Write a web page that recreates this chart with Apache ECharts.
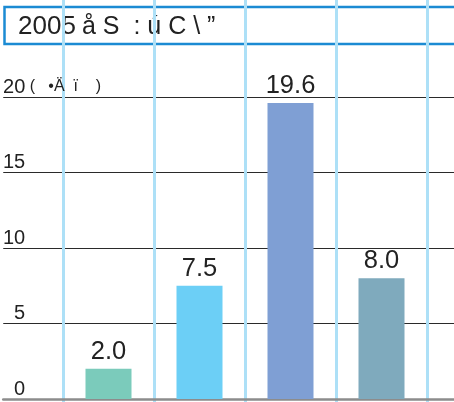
<!DOCTYPE html>
<html>
<head>
<meta charset="utf-8">
<script src="https://cdn.jsdelivr.net/npm/echarts@6/dist/echarts.min.js"></script>
<style>
  html, body { margin: 0; padding: 0; background: #fff; }
  #chart { width: 454px; height: 402px; }
</style>
</head>
<body>
<div id="chart"></div>
<script>
// Chart data
const categories = ['1', '2', '3', '4'];
const values = [2.0, 7.5, 19.6, 8.0];
const barColors = ['#7bcbbb', '#6ccff6', '#7f9fd4', '#7faabd'];
const yTicks = [0, 5, 10, 15, 20];
const titleYear = '2005';
const titleRest = 'å S  : ú C \\ ”';
const unitText = ' (   •Ä  ï    )';

const FONT = 'Liberation Sans, Arial, sans-serif';
const chart = echarts.init(document.getElementById('chart'), null, { renderer: 'canvas' });

const yMin = yTicks[0];
const yMax = yTicks[yTicks.length - 1];
const yStep = yTicks[1] - yTicks[0];

chart.setOption({
  animation: false,
  backgroundColor: '#fff',
  grid: [
    // bars
    { left: 63, width: 364, top: 97, bottom: 3 },
    // horizontal rules across the page
    { left: 3, right: 0, top: 97, bottom: 3 },
    // full-height vertical rules
    { left: 63, width: 364, top: 0, bottom: 0 }
  ],
  xAxis: [
    {
      gridIndex: 0, type: 'category', data: categories,
      axisLine: { show: false }, axisTick: { show: false },
      axisLabel: { show: false }, splitLine: { show: false }
    },
    {
      gridIndex: 1, type: 'value', min: 0, max: 1,
      axisLine: { show: true, lineStyle: { color: '#8c8c8c', width: 2.5 } },
      axisTick: { show: false }, axisLabel: { show: false }, splitLine: { show: false }
    },
    {
      gridIndex: 2, type: 'category', data: categories,
      axisLine: { show: false }, axisTick: { show: false }, axisLabel: { show: false },
      splitLine: { show: true, lineStyle: { color: '#ade0f7', width: 3 } }
    }
  ],
  yAxis: [
    {
      gridIndex: 0, type: 'value', min: yMin, max: yMax, interval: yStep,
      show: false
    },
    {
      gridIndex: 1, type: 'value', min: yMin, max: yMax, interval: yStep,
      axisLine: { show: false }, axisTick: { show: false },
      splitLine: { show: true, lineStyle: { color: '#2a2a2a', width: 1 } },
      axisLabel: {
        inside: true, margin: 0, align: 'left', verticalAlign: 'bottom',
        fontSize: 20, color: '#222', fontFamily: FONT,
        formatter: function (v) {
          return v === yMax ? '{n|' + v + '}{u|' + unitText + '}' : '{n|' + v + '}';
        },
        rich: {
          n: { width: 22, align: 'right', fontSize: 20, fontFamily: FONT, color: '#222' },
          u: { fontSize: 16, fontFamily: FONT, color: '#222' }
        }
      }
    },
    {
      gridIndex: 2, type: 'value', show: false, splitLine: { show: false }
    }
  ],
  series: [
    {
      type: 'bar', xAxisIndex: 0, yAxisIndex: 0,
      barWidth: 46,
      data: values.map(function (v, i) {
        return { value: v, itemStyle: { color: barColors[i] } };
      }),
      label: {
        show: true, position: 'top', distance: 4,
        fontSize: 25.5, color: '#222', fontFamily: FONT,
        formatter: function (p) { return p.value.toFixed(1); }
      },
      z: 5
    }
  ],
  graphic: [
    {
      type: 'group', z: 100,
      children: [
        {
          type: 'rect',
          shape: { x: 4.5, y: 7, width: 470, height: 37 },
          style: { fill: '#fff', stroke: '#1b8bd3', lineWidth: 2.5 }
        },
        {
          type: 'text', x: 18, y: 27,
          style: {
            text: titleYear, verticalAlign: 'middle',
            fontSize: 26, fontFamily: FONT, fill: '#222'
          }
        },
        {
          type: 'text', x: 82, y: 27,
          style: {
            text: titleRest, verticalAlign: 'middle',
            fontSize: 25, fontFamily: FONT, fill: '#222'
          }
        }
      ]
    }
  ]
});
</script>
</body>
</html>
